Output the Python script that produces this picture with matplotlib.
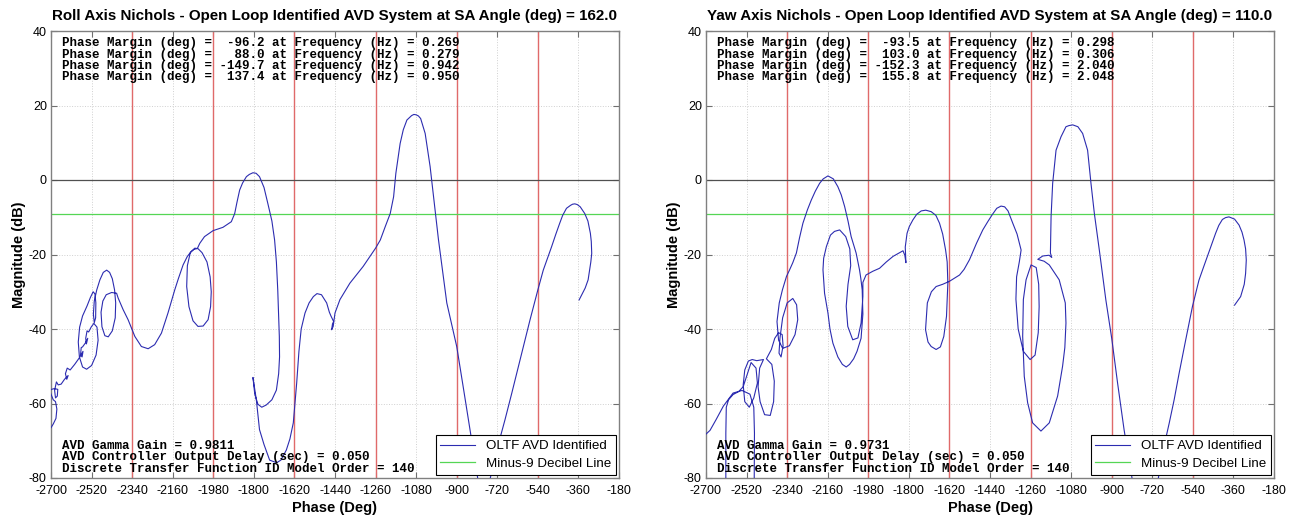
import numpy as np
import matplotlib.pyplot as plt

# ---- Roll axis Nichols curve (phase deg, magnitude dB)
roll_phase = [
    -357, -330, -317, -305, -301, -303, -307, -318, -332, -352, -365, -376, -386, -395, -413, -430, -443,
    -460, -479, -500, -516, -540, -575, -619, -656, -686, -720, -751, -770, -790, -807, -841,
    -870, -900, -944, -981, -996, -1018, -1040, -1060, -1070, -1080, -1090, -1100, -1121, -1137, -1151, -1170,
    -1180, -1195, -1217, -1239, -1260,
    -1315, -1374, -1418, -1440, -1448, -1455, -1451, -1446, -1458, -1465, -1477, -1500, -1520,
    -1536, -1555, -1573, -1590, -1600, -1610, -1625, -1640, -1656, -1680, -1699, -1730, -1755,
    -1775, -1789, -1804, -1796, -1782, -1765, -1745, -1720, -1700, -1690, -1686, -1687, -1689,
    -1694, -1700, -1708, -1720, -1738, -1755, -1775, -1790, -1804, -1820, -1833, -1850, -1863,
    -1875, -1885, -1900, -1937, -1981, -2019, -2040, -2050,
    -2030, -2008, -1994, -1989, -1992, -2003, -2025, -2048, -2070, -2088, -2098, -2095, -2082,
    -2062, -2050, -2065, -2078, -2095, -2114, -2135, -2151, -2181, -2210, -2240, -2269, -2299,
    -2328, -2358, -2380, -2402,
    -2409, -2431, -2455, -2470, -2478, -2474, -2461, -2446, -2428, -2415, -2413, -2418, -2428,
    -2440, -2453, -2468, -2483, -2497, -2508, -2512, -2508, -2502, -2501, -2505, -2513, -2525,
    -2540, -2560, -2573, -2579, -2574, -2560, -2542, -2520, -2500, -2491, -2496, -2510, -2522,
    -2533, -2540, -2546, -2543, -2537, -2548, -2560, -2566, -2569, -2562, -2558, -2575, -2595,
    -2615, -2628, -2636, -2630, -2624, -2640, -2655, -2668, -2676, -2684, -2680, -2672, -2670,
    -2685, -2698, -2706, -2700, -2690, -2680, -2674, -2678, -2690, -2700,
]
roll_mag = [
    -32.2, -29.0, -26.8, -22.0, -19.7, -16.5, -14.3, -11.0, -9.0, -7.2, -6.6, -6.4, -6.5, -6.8, -7.6, -9.5, -11.6,
    -14.5, -17.9, -21.5, -24.2, -29.5, -37.6, -48.3, -57.3, -64.4, -72.0, -80.0, -86.0, -86.0, -80.0, -67.0,
    -56.0, -44.7, -33.0, -16.0, -8.0, 3.6, 12.5, 16.5, 17.2, 17.5, 17.6, 17.3, 16.1, 13.5, 9.8, 1.8,
    -4.5, -9.0, -12.5, -16.1, -18.3,
    -23.2, -27.7, -32.1, -35.7, -39.3, -40.2, -38.6, -38.0, -36.5, -35.5, -33.0, -30.8, -30.5,
    -31.3, -33.0, -35.7, -40.0, -46.0, -54.5, -65.2, -69.5, -72.5, -75.2, -75.9, -75.2, -71.0,
    -67.0, -59.0, -53.0, -57.5, -60.2, -61.0, -60.4, -59.0, -56.4, -52.0, -47.5, -42.0, -38.4,
    -29.5, -22.0, -16.1, -11.0, -6.3, -2.0, 0.9, 1.8, 1.95, 1.5, 0.9, -0.8, -2.7,
    -6.0, -9.0, -11.2, -12.7, -13.6, -15.2, -17.0, -18.3,
    -19.5, -22.0, -26.0, -30.0, -34.0, -37.5, -39.2, -39.3, -37.8, -34.0, -28.6, -23.0, -19.5,
    -18.3, -18.4, -18.6, -19.2, -20.5, -22.8, -26.5, -29.5, -35.7, -41.1, -44.2, -45.3, -44.7,
    -42.0, -37.5, -34.8, -31.7,
    -30.4, -30.2, -30.8, -32.5, -35.5, -39.4, -41.8, -42.1, -40.5, -37.0, -33.0, -29.5, -26.5,
    -24.8, -24.2, -24.8, -26.8, -29.5, -32.5, -36.0, -38.3, -37.0, -33.0, -30.6, -30.0, -31.5,
    -33.8, -36.5, -39.5, -43.5, -47.5, -50.2, -50.8, -49.8, -47.0, -43.0, -39.5, -38.5, -39.5,
    -40.8, -40.5, -42.5, -44.0, -42.5, -43.8, -44.8, -45.0, -47.0, -47.5, -46.0, -47.8, -49.5,
    -51.0, -50.5, -52.0, -53.5, -52.5, -53.5, -54.8, -55.0, -54.2, -56.5, -58.5, -58.0, -56.2,
    -56.0, -56.2, -56.5, -57.5, -59.0, -59.5, -61.5, -64.0, -65.5, -66.5,
]

# ---- Yaw axis Nichols curve
yaw_phase = [
    -355, -328, -312, -306, -303, -306, -313, -322, -335, -355, -380, -395, -409, -425, -439,
    -458, -476, -495, -513, -542, -572, -601, -623, -645, -670, -693, -715, -790, -810, -845,
    -874, -900, -926, -955, -977, -992, -1007, -1029, -1050, -1073, -1090, -1103, -1125, -1147,
    -1162, -1169, -1172, -1166, -1178, -1206, -1228,
    -1200, -1177, -1133, -1106, -1103, -1108, -1118, -1140, -1177, -1214, -1251, -1273, -1288,
    -1295, -1292, -1280, -1258, -1235, -1224, -1222, -1226, -1240, -1262, -1292, -1315, -1325,
    -1322, -1310, -1302, -1320, -1339, -1360, -1375, -1391, -1410, -1430, -1450, -1472, -1500,
    -1531, -1555, -1575, -1620, -1650, -1679, -1700, -1718, -1726, -1715, -1701, -1679, -1660,
    -1645, -1633, -1627, -1630, -1637, -1650, -1664, -1680, -1701, -1725, -1745, -1765, -1782,
    -1798, -1808, -1816, -1813, -1818, -1826, -1850, -1870, -1900, -1930, -1960, -1990, -2004,
    -2004, -2012, -2026, -2049, -2071, -2078, -2070, -2058, -2062, -2080, -2107, -2130, -2148,
    -2166, -2178, -2181, -2174, -2159, -2150, -2137, -2115, -2095, -2078, -2063, -2045, -2030,
    -2012, -2004, -2007, -2013, -2019, -2034, -2056, -2070, -2085, -2100, -2115, -2135, -2159,
    -2180, -2196, -2215, -2233, -2250, -2270, -2285, -2299, -2315, -2329, -2343, -2361,
    -2375, -2385, -2378, -2360, -2330, -2305, -2293, -2298, -2315, -2340, -2360, -2372, -2376,
    -2367, -2358, -2362, -2378, -2395, -2410,
    -2432, -2408, -2397, -2400, -2415, -2440, -2460, -2469, -2462, -2445, -2475, -2495, -2512,
    -2528, -2535, -2528, -2508, -2488, -2472, -2478, -2500, -2535, -2555, -2580, -2600, -2610,
    -2612, -2612, -2612, -2486, -2486, -2485, -2488, -2505, -2540, -2580, -2623, -2655, -2682,
    -2705,
]
yaw_mag = [
    -33.6, -31.3, -28.0, -25.1, -21.5, -18.5, -16.1, -14.0, -12.1, -10.5, -9.9, -10.1, -10.6, -12.2, -14.3,
    -17.5, -20.6, -23.8, -26.9, -34.0, -43.0, -51.9, -59.0, -65.3, -72.0, -80.0, -87.0, -87.0, -80.0, -67.1,
    -54.5, -42.5, -32.2, -18.8, -9.0, -0.9, 8.0, 12.5, 14.3, 14.8, 14.6, 14.3, 11.6, 8.0,
    -0.9, -9.8, -19.6, -20.8, -20.2, -20.4, -21.3,
    -21.8, -22.8, -26.8, -33.0, -38.4, -45.0, -50.0, -58.0, -65.2, -67.4, -65.2, -59.8, -52.7,
    -42.0, -32.1, -26.8, -22.8, -23.5, -28.0, -34.0, -41.0, -47.0, -48.2, -46.0, -40.0, -32.0,
    -26.0, -22.0, -18.8, -14.5, -11.6, -8.3, -7.2, -7.0, -7.6, -9.3, -11.2, -13.4, -17.0,
    -21.4, -24.0, -25.5, -27.2, -28.0, -28.6, -30.0, -33.0, -40.2, -43.5, -44.7, -45.5, -44.8,
    -42.0, -36.6, -27.7, -22.0, -18.8, -14.5, -11.6, -9.5, -8.5, -8.1, -8.3, -9.2, -10.7,
    -12.5, -14.3, -18.0, -22.2, -20.2, -19.0, -19.8, -20.5, -22.0, -23.7, -24.5, -25.5, -27.5,
    -31.3, -38.4, -42.4, -42.9, -39.3, -33.9, -28.0, -23.0, -18.5, -15.2, -13.4, -13.8, -14.8,
    -17.9, -21.0, -24.1, -30.4, -35.7, -40.0, -43.8, -47.5, -49.5, -50.2, -49.5, -48.0, -46.0,
    -42.5, -36.0, -29.5, -26.5, -24.1, -19.6, -15.2, -11.0, -7.1, -4.0, -1.8, 0.3, 1.1,
    0.3, -0.9, -3.0, -5.4, -8.0, -11.6, -15.5, -19.6, -22.2, -24.1, -25.9, -29.5,
    -33.0, -38.0, -43.0, -45.2, -44.5, -41.5, -37.5, -33.5, -31.8, -33.0, -37.0, -42.5, -46.5,
    -47.5, -44.5, -41.5, -41.0, -42.5, -45.5,
    -48.0, -49.5, -54.0, -59.5, -63.2, -63.0, -59.5, -55.5, -50.5, -48.2, -48.5, -48.2, -48.6,
    -51.0, -55.0, -59.5, -61.0, -58.5, -54.5, -50.5, -49.0, -55.5, -56.8, -57.6, -59.0, -61.0,
    -68.0, -80.0, -86.0, -86.0, -80.0, -68.0, -61.0, -57.5, -56.5, -57.2, -60.7, -64.3, -67.2,
    -68.5,
]

roll_margins = [-96.2, 88.0, -149.7, 137.4]
roll_freqs = [0.269, 0.279, 0.942, 0.950]
yaw_margins = [-93.5, 103.0, -152.3, 155.8]
yaw_freqs = [0.298, 0.306, 2.040, 2.048]

roll_gain = 0.9811
yaw_gain = 0.9731
delay_sec = 0.050
model_order = 140
roll_sa = 162.0
yaw_sa = 110.0

crit_phases = [-2340, -1980, -1620, -1260, -900, -540]
x_ticks = list(range(-2700, -179, 180))
y_ticks = list(range(-80, 41, 20))

plt.rcParams['font.family'] = ['Liberation Sans', 'DejaVu Sans']
plt.rcParams['axes.unicode_minus'] = False

fig = plt.figure(figsize=(12.93, 5.21), dpi=100)
ax1 = fig.add_axes([51 / 1293, 43 / 521, 568 / 1293, 447 / 521])
ax2 = fig.add_axes([706 / 1293, 43 / 521, 568 / 1293, 447 / 521])

mono = dict(family='Liberation Mono', weight='bold', size=9, color='black')


def nichols(ax, phase, mag, axis_name, sa, margins, freqs, gain):
    ax.set_axisbelow(True)
    for p in crit_phases:
        ax.axvline(p, color='#e06a6a', lw=1.0, zorder=2)
    ax.axhline(0, color='#505050', lw=0.9, zorder=2)
    ax.plot(phase, mag, color='#2c2cb0', lw=0.8, label='OLTF AVD Identified', zorder=3)
    ax.axhline(-9, color='#55d655', lw=0.9, label='Minus-9 Decibel Line', zorder=2)

    ax.set_xlim(-2700, -180)
    ax.set_ylim(-80, 40)
    ax.set_xticks(x_ticks)
    ax.set_yticks(y_ticks)
    ax.grid(True, color='#d0d0d0', linestyle=':', lw=0.7)
    ax.tick_params(direction='in', top=True, right=True, length=4, width=0.8,
                   color='#707070', labelsize=9)
    ax.tick_params(axis='x', pad=5)
    ax.tick_params(axis='y', pad=3)
    for s in ax.spines.values():
        s.set_color('#808080')
        s.set_linewidth(1.0)

    ax.set_title(f'{axis_name} Axis Nichols - Open Loop Identified AVD System at SA Angle (deg) = {sa:.1f}',
                 fontsize=10.9, fontweight='bold', pad=8)
    ax.set_xlabel('Phase (Deg)', fontsize=10.5, fontweight='bold', labelpad=3)
    ax.set_ylabel('Magnitude (dB)', fontsize=10.5, fontweight='bold', labelpad=2)

    top_y = [0.973, 0.947, 0.921, 0.896]
    for y, m, f in zip(top_y, margins, freqs):
        ax.text(0.019, y, f'Phase Margin (deg) = {m:6.1f} at Frequency (Hz) = {f:.3f}',
                transform=ax.transAxes, va='center', ha='left', **mono)
    bottom_lines = [f'AVD Gamma Gain = {gain:.4f}',
                    f'AVD Controller Output Delay (sec) = {delay_sec:.3f}',
                    f'Discrete Transfer Function ID Model Order = {model_order}']
    for y, t in zip([0.072, 0.047, 0.021], bottom_lines):
        ax.text(0.019, y, t, transform=ax.transAxes, va='center', ha='left', **mono)

    leg = ax.legend(loc='lower right', fontsize=9.6, fancybox=False, framealpha=1,
                    edgecolor='black', borderaxespad=0.25, handlelength=2.6,
                    borderpad=0.35, labelspacing=0.4)
    leg.get_frame().set_linewidth(0.8)
    leg.set_zorder(5)


nichols(ax1, roll_phase, roll_mag, 'Roll', roll_sa, roll_margins, roll_freqs, roll_gain)
nichols(ax2, yaw_phase, yaw_mag, 'Yaw', yaw_sa, yaw_margins, yaw_freqs, yaw_gain)

fig.savefig('out.png', dpi=100, facecolor='white')
